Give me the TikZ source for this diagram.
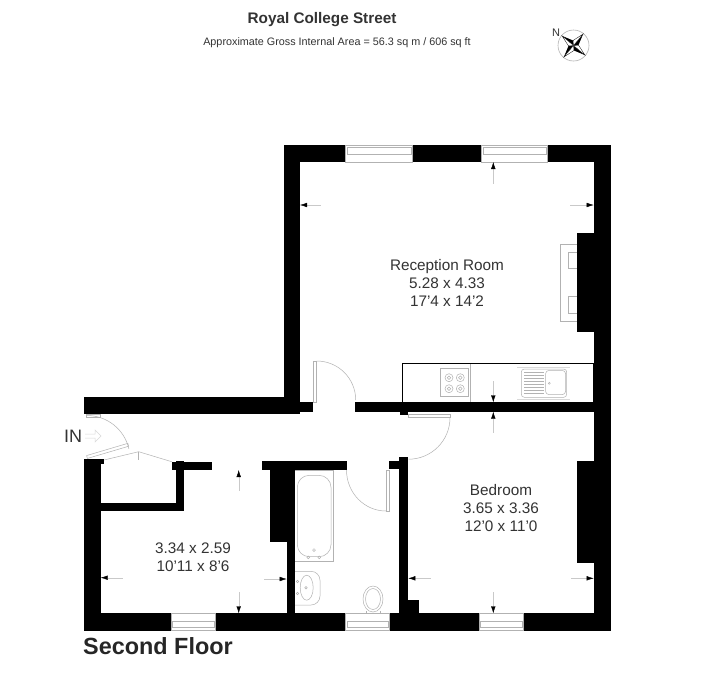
\documentclass[tikz,border=0pt]{standalone}
\usepackage{fontspec}
\setmainfont{Liberation Sans}
\usetikzlibrary{calc,arrows.meta,positioning}
\definecolor{plangray}{gray}{0.7}
\definecolor{plantext}{gray}{0.2}
\tikzset{
  wallfill/.style={fill=black},
  thinline/.style={draw=plangray, line width=0.5pt},
  glass/.style={draw=plangray, line width=0.5pt, fill=white},
  dimline/.style={draw=plangray!70, line width=0.4pt, {Latex[black,length=7pt,width=4.5pt]}-},
  roomlabel/.style={text=plantext, align=center, font=\fontsize{15.3}{18.2}\selectfont},
}
\begin{document}
\begin{tikzpicture}[x=1pt, y=-1pt]
	\useasboundingbox[fill=white] (0,0) rectangle (709,694);

	\foreach \xa/\ya/\xb/\yb in {283.5/145/610.7/162, 283.5/145/300/414.3, 593.7/145/610.7/630.7,
		577/232.7/594/332, 577/461/594/563.3, 84/397.3/300/414.3, 300/402.3/313.3/411.7,
		355.3/402.3/594/411.7, 400/411/408.3/415, 399.3/456.7/408.3/613.3, 388.7/461/399.3/469.3,
		399.3/600/419.3/613.3, 84/613.3/610.7/630.7, 84/459.3/100.7/630.7, 100.7/459.3/104/464,
		100.7/502.7/184/511, 175.7/461/184/511, 171.7/461.7/211.7/470, 261.7/461/347/469.5,
		270/461/295/541.7, 286.7/541/295/613.3}
		\fill[wallfill] (\xa,\ya) rectangle (\xb,\yb);

	\foreach \xa/\xb in {345.7/412.3, 481.7/547.7} {
		\draw[glass] (\xa,145) rectangle (\xb,162);
		\draw[thinline] (\xa+1.5,147.5) rectangle (\xb-1.5,154);
	}
	\foreach \xa/\xb in {171/215.7, 345.7/389.3, 479/523.3} {
		\draw[glass] (\xa,613.3) rectangle (\xb,630.7);
		\draw[thinline] (\xa+1.5,621.7) rectangle (\xb-1.5,627.3);
	}

	% doors
	\draw[glass] (313.3,361) rectangle (316.7,402.3);
	\draw[thinline] (316.7,361) arc[start angle=-90, end angle=0, radius=39];
	\draw[glass] (408.3,414.3) rectangle (450,417.7);
	\draw[thinline] (450,417.7) arc[start angle=0, end angle=90, radius=41.5];
	\draw[glass] (386,470) rectangle (389.3,511);
	\draw[thinline] (386,511) arc[start angle=90, end angle=180, x radius=39.5, y radius=41];
	\draw[glass, rotate around={16.5:(87,457)}] (87,455.5) rectangle (130,458.5);
	\draw[glass] (86.5,414.3) rectangle (100,417);
	\draw[thinline] (87,415.5) arc[start angle=-90, end angle=-13, radius=43];
	\draw[thinline] (104,460) -- (138.7,451.7) -- (171.7,461.7);
	\draw[thinline] (138.7,451.7) -- (138.7,460);

	% arrow by the entrance
	\draw[draw=plangray!50, line width=0.5pt] (85,434) -- (95,434) -- (95,430) -- (101,436) -- (95,442) -- (95,438) -- (85,438);

	% fireplace
	\draw[thinline] (577,244) -- (560.3,244) -- (560.3,321.3) -- (577,321.3);
	\draw[thinline] (577,252.3) -- (568.7,252.3) -- (568.7,268) -- (577,268);
	\draw[thinline] (577,296) -- (568.7,296) -- (568.7,313) -- (577,313);

	% kitchen
	\draw[black, line width=0.8pt] (402.7,363.7) rectangle (593.7,402.3);
	\draw[thinline] (470.3,364) -- (470.3,402);
	\draw[thinline] (440.3,368.3) rectangle (468.3,396.7);
	\foreach \cx in {449,460.3}
		\foreach \cy in {377.7,388.7} {
			\draw[thinline] (\cx,\cy) circle[radius=4];
			\draw[thinline] (\cx,\cy) circle[radius=1.8];
		}
	\draw[thinline, rounded corners=3pt] (521.3,369) rectangle (566.7,397.3);
	\draw[thinline, rounded corners=3pt] (545.7,370.5) rectangle (565.5,394.5);
	\foreach \ly in {372,375,378,381,384,387,390,393}
		\draw[thinline] (524,\ly) -- (544,\ly);
	\draw[thinline] (549.3,383.3) circle[radius=1];
	\draw[draw=plangray!50, line width=0.4pt] (517,367.5) -- (570,367.5);
	\draw[draw=plangray!50, line width=0.4pt] (517,398.7) -- (570,398.7);

	% bathroom
	\draw[thinline] (295,470) -- (333.7,470) -- (333.7,561.3) -- (295,561.3);
	\draw[thinline, rounded corners=12pt] (297.3,475.3) rectangle (331,556.7);
	\foreach \dx/\dy in {308.3/557.3, 319.3/557.3, 314/550}
		\draw[thinline] (\dx,\dy) circle[radius=1.4];
	\draw[thinline, rounded corners=9pt] (295,571.3) -- (320,571.3) -- (320,605) -- (295,605);
	\draw[thinline] (306.7,587.7) ellipse[x radius=6.5, y radius=12.5];
	\draw[thinline] (306,587.7) circle[radius=1.2];
	\draw[thinline] (297.5,581.5) circle[radius=1.2];
	\draw[thinline] (297.5,593.5) circle[radius=1.2];
	\draw[thinline] (373,599) ellipse[x radius=10, y radius=13];
	\draw[thinline] (373,599) ellipse[x radius=7.5, y radius=10.5];
	\draw[thinline] (366,611) -- (366,613.3);
	\draw[thinline] (380,611) -- (380,613.3);

	% dimension arrows
	\foreach \xa/\ya/\xb/\yb in {300/205/321/205, 593.7/205/570/205, 493.3/162/493.3/184,
		493.3/402.3/493.3/381, 493.3/411.7/493.3/433, 493.3/613.3/493.3/592,
		408.3/578.3/430.7/578.3, 593.7/578.3/571/578.3,
		100.7/577.7/123/577.7, 286.7/579/264/579, 238.7/470/238.7/491, 238.7/613.3/238.7/592}
		\draw[dimline] (\xa,\ya) -- (\xb,\yb);

	% compass
	\draw[draw=plangray, line width=0.6pt] (573.5,45.5) circle[radius=15.5];
	\foreach \ang in {40,130,220,310} {
		\fill[black] (573.5,45.5) -- ($(573.5,45.5)+(\ang:15)$) -- ($(573.5,45.5)+(\ang+45:5)$) -- cycle;
		\filldraw[fill=white, draw=black, line width=0.3pt] (573.5,45.5) -- ($(573.5,45.5)+(\ang:15)$) -- ($(573.5,45.5)+(\ang-45:5)$) -- cycle;
	}
	\node[text=plantext, font=\fontsize{11}{12}\selectfont] (north) at (556,33) {N};

	% texts
	\node[text=plantext, font=\fontsize{15.3}{18}\bfseries\selectfont] (title) at (322,20) {Royal College Street};
	\node[text=plantext, font=\fontsize{10.8}{13}\selectfont, below=22pt of title.base, anchor=base, xshift=15pt] (area) {Approximate Gross Internal Area = 56.3 sq m / 606 sq ft};
	\node[roomlabel] (reception) at (447,283) {Reception Room\\5.28 x 4.33\\17'4 x 14'2};
	\node[roomlabel] (bedroom) at (501,508) {Bedroom\\3.65 x 3.36\\12'0 x 11'0};
	\node[roomlabel] (hallroom) at (193,557) {3.34 x 2.59\\10'11 x 8'6};
	\node[text=plantext, font=\fontsize{18}{20}\selectfont] (entry) at (73,436) {IN};
	\node[text=black!85, inner sep=0pt, font=\fontsize{23.4}{26}\bfseries\selectfont, anchor=base west] (floor) at (83,654) {Second Floor};
\end{tikzpicture}
\end{document}
